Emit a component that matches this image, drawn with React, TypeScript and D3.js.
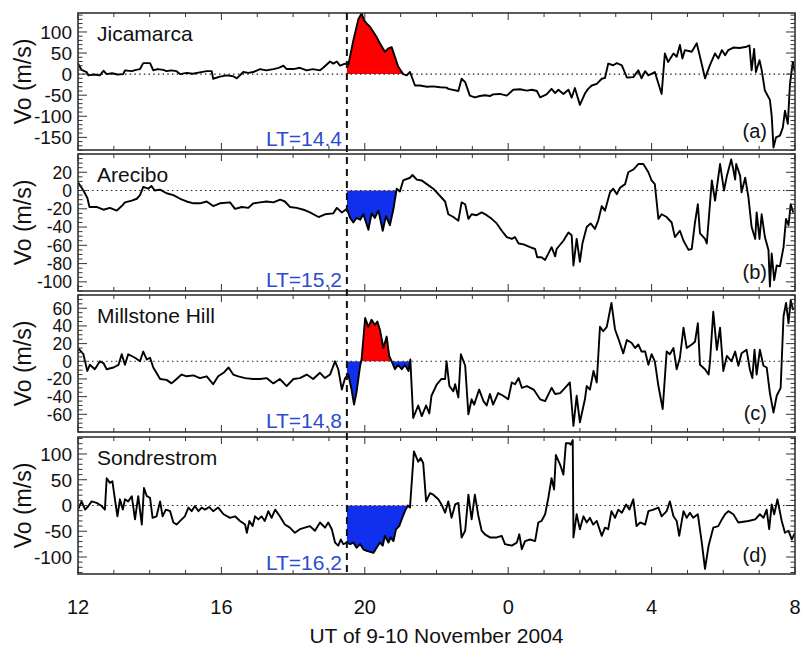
import React from "react";
import * as d3 from "d3";

// ---------------- data (UT hour, Vo m/s) ----------------
const jicamarca: [number, number][] = [
  [12.0,25],[12.1,10],[12.24,5],[12.29,-3],[12.45,-1],[12.61,-3],[12.71,8],[12.8,0],[12.95,2],[13.1,-1],[13.26,0],[13.31,9],[13.5,7],[13.62,10],[13.73,12],[13.82,26],[14.01,26],[14.1,9],[14.22,12],[14.38,10],[14.47,7],[14.6,9],[14.75,7],[14.85,0],[15.03,3],[15.2,1],[15.4,4],[15.59,7],[15.73,7],[15.77,-11],[15.96,-6],[16.15,-3],[16.33,-5],[16.43,-10],[16.61,5],[16.75,3],[16.89,5],[17.08,12],[17.25,9],[17.45,12],[17.6,15],[17.73,20],[17.82,12],[18.01,12],[18.19,15],[18.38,9],[18.55,12],[18.75,9],[18.84,15],[19.03,30],[19.12,25],[19.22,30],[19.31,20],[19.45,25],[19.54,22],[19.62,55],[19.68,80],[19.75,105],[19.82,130],[19.91,144],[19.98,128],[20.05,120],[20.15,112],[20.24,100],[20.33,88],[20.42,73],[20.56,53],[20.66,61],[20.75,64],[20.84,41],[20.93,18],[21.07,0],[21.17,-3],[21.26,5],[21.4,-27],[21.54,-27],[21.73,-30],[21.91,-29],[22.1,-31],[22.28,-32],[22.33,-35],[22.61,-40],[22.7,-11],[22.8,-19],[22.93,-51],[23.07,-55],[23.21,-52],[23.35,-50],[23.49,-52],[23.58,-48],[23.77,-47],[23.96,-51],[24.14,-37],[24.33,-36],[24.52,-39],[24.66,-37],[24.8,-40],[24.89,-55],[25.07,-48],[25.21,-35],[25.31,-45],[25.4,-37],[25.54,-47],[25.68,-37],[25.77,-56],[25.86,-33],[26.0,-73],[26.14,-46],[26.23,-35],[26.33,-27],[26.47,-23],[26.61,-11],[26.7,-9],[26.79,25],[26.93,21],[27.03,26],[27.17,21],[27.31,-8],[27.49,-7],[27.63,9],[27.72,-10],[27.82,7],[27.91,-3],[28.09,5],[28.28,-47],[28.37,49],[28.46,29],[28.61,49],[28.7,41],[28.79,69],[28.86,37],[28.93,57],[29.12,53],[29.26,73],[29.35,41],[29.49,-10],[29.63,22],[29.77,49],[29.86,37],[29.96,57],[30.05,45],[30.14,57],[30.28,63],[30.45,62],[30.65,65],[30.73,68],[30.79,9],[30.86,60],[30.91,5],[31.01,33],[31.07,10],[31.16,-39],[31.3,-61],[31.35,-99],[31.4,-174],[31.47,-150],[31.58,-146],[31.66,-127],[31.72,-87],[31.8,-118],[31.86,-23],[31.94,29],[32.0,5]
];

const arecibo: [number, number][] = [
  [12.0,9],[12.15,0],[12.26,-8],[12.32,-18],[12.52,-18],[12.71,-21],[12.89,-19],[13.08,-22],[13.22,-17],[13.31,-13],[13.5,-11],[13.64,-9],[13.73,-5],[13.82,4],[13.96,2],[14.05,5],[14.14,0],[14.29,1],[14.47,-3],[14.66,-5],[14.85,-9],[15.03,-12],[15.22,-14],[15.4,-14],[15.59,-12],[15.77,-17],[15.96,-14],[16.24,-13],[16.38,-20],[16.57,-18],[16.75,-19],[16.89,-14],[17.08,-13],[17.26,-12],[17.45,-13],[17.64,-10],[17.77,-12],[17.91,-18],[18.1,-19],[18.29,-21],[18.47,-24],[18.71,-29],[18.89,-26],[19.12,-25],[19.22,-19],[19.36,-24],[19.5,-20],[19.59,-30],[19.68,-35],[19.77,-30],[19.87,-32],[19.96,-26],[20.1,-43],[20.19,-25],[20.28,-30],[20.38,-22],[20.5,-44],[20.59,-28],[20.7,-38],[20.8,-20],[20.89,2],[20.98,-1],[21.07,11],[21.26,14],[21.33,17],[21.45,12],[21.59,11],[21.73,7],[21.91,2],[22.1,-6],[22.24,-12],[22.33,-26],[22.47,-29],[22.61,-33],[22.7,-13],[22.8,-15],[22.89,-31],[22.98,-26],[23.12,-27],[23.26,-24],[23.4,-27],[23.54,-31],[23.68,-36],[23.82,-44],[23.96,-51],[24.1,-53],[24.19,-51],[24.29,-58],[24.43,-59],[24.61,-62],[24.75,-64],[24.81,-73],[24.93,-73],[25.03,-76],[25.12,-69],[25.21,-62],[25.31,-72],[25.35,-64],[25.54,-55],[25.68,-46],[25.77,-49],[25.82,-82],[25.91,-53],[26.0,-78],[26.07,-58],[26.19,-40],[26.3,-36],[26.42,-42],[26.51,-33],[26.61,-17],[26.7,-22],[26.84,-2],[26.93,2],[27.03,-4],[27.12,3],[27.26,7],[27.35,20],[27.49,23],[27.63,29],[27.77,29],[27.91,20],[28.0,11],[28.09,7],[28.19,-31],[28.28,-26],[28.42,-29],[28.56,-35],[28.65,-51],[28.79,-44],[28.89,-55],[29.03,-65],[29.12,-64],[29.21,-35],[29.29,-15],[29.35,-47],[29.49,-53],[29.54,-58],[29.68,11],[29.77,-11],[29.91,29],[30.02,0],[30.1,16],[30.22,34],[30.28,23],[30.33,12],[30.36,29],[30.47,16],[30.51,-2],[30.61,14],[30.7,-7],[30.79,-40],[30.89,-53],[30.93,-24],[31.01,-53],[31.07,-26],[31.16,-51],[31.26,-65],[31.3,-105],[31.35,-69],[31.42,-98],[31.49,-82],[31.58,-83],[31.68,-62],[31.75,-31],[31.82,-38],[31.88,-15],[31.95,-24]
];

const millstone: [number, number][] = [
  [12.0,15],[12.15,8],[12.26,-11],[12.33,-4],[12.47,-9],[12.61,0],[12.71,-2],[12.8,-9],[12.99,-7],[13.13,-4],[13.22,8],[13.31,-4],[13.4,8],[13.59,4],[13.73,0],[13.82,11],[13.92,2],[14.01,4],[14.1,-7],[14.29,-20],[14.47,-21],[14.61,-25],[14.75,-20],[14.89,-15],[15.03,-17],[15.22,-16],[15.4,-19],[15.59,-17],[15.77,-26],[15.91,-17],[16.06,-13],[16.2,-7],[16.33,-15],[16.47,-17],[16.66,-19],[16.89,-20],[17.08,-20],[17.26,-19],[17.45,-25],[17.63,-20],[17.82,-28],[18.01,-20],[18.19,-19],[18.38,-15],[18.56,-20],[18.75,-13],[18.89,-19],[19.03,-15],[19.17,0],[19.26,-9],[19.36,-32],[19.45,-19],[19.54,-15],[19.63,-32],[19.7,-49],[19.77,-35],[19.87,-5],[19.91,2],[20.01,49],[20.1,39],[20.19,47],[20.28,41],[20.35,45],[20.42,36],[20.52,15],[20.61,28],[20.68,6],[20.75,0],[20.84,-9],[20.93,-4],[21.03,-9],[21.12,-4],[21.22,-11],[21.27,2],[21.35,-64],[21.49,-50],[21.59,-62],[21.71,-50],[21.8,-59],[21.86,-39],[22.01,-26],[22.14,-20],[22.24,-20],[22.28,0],[22.36,-28],[22.47,-34],[22.52,-26],[22.61,-41],[22.68,8],[22.8,-5],[22.89,-60],[22.98,-43],[23.05,-49],[23.19,-32],[23.31,-45],[23.4,-50],[23.49,-37],[23.58,-49],[23.72,-36],[23.86,-39],[24.0,-43],[24.1,-24],[24.19,-26],[24.29,-19],[24.38,-30],[24.52,-28],[24.71,-32],[24.89,-43],[25.03,-45],[25.21,-30],[25.31,-37],[25.45,-36],[25.63,-28],[25.72,-24],[25.82,-73],[25.91,-39],[26.0,-69],[26.14,-43],[26.19,-28],[26.28,-32],[26.38,-11],[26.47,-24],[26.56,39],[26.65,34],[26.75,39],[26.88,66],[26.98,36],[27.07,26],[27.21,9],[27.31,24],[27.44,21],[27.54,15],[27.63,19],[27.72,11],[27.82,11],[27.91,-4],[28.0,8],[28.09,0],[28.19,-28],[28.31,-54],[28.42,11],[28.51,8],[28.61,15],[28.7,-9],[28.79,4],[28.89,38],[28.98,15],[29.12,19],[29.21,22],[29.29,43],[29.35,-4],[29.49,-9],[29.59,-15],[29.63,0],[29.72,56],[29.82,13],[29.91,38],[30.0,-11],[30.1,6],[30.23,0],[30.33,11],[30.42,-5],[30.51,9],[30.65,13],[30.74,-9],[30.81,-19],[30.87,13],[30.93,-15],[31.02,13],[31.12,-5],[31.21,-7],[31.3,-36],[31.4,-58],[31.49,-39],[31.6,-30],[31.68,51],[31.75,66],[31.82,43],[31.88,69],[31.95,58]
];

const sondrestrom: [number, number][] = [
  [12.0,-8],[12.1,8],[12.2,-8],[12.29,-1],[12.38,8],[12.52,5],[12.66,-1],[12.75,-8],[12.8,53],[12.89,44],[12.96,47],[13.03,12],[13.1,-21],[13.17,12],[13.25,-8],[13.31,12],[13.4,8],[13.5,18],[13.59,-27],[13.68,18],[13.78,-37],[13.84,34],[13.92,18],[14.01,15],[14.08,-24],[14.19,-21],[14.29,8],[14.36,-21],[14.45,-8],[14.57,-11],[14.66,-33],[14.75,-37],[14.85,-30],[14.98,-21],[15.08,-4],[15.17,-11],[15.26,-1],[15.36,-11],[15.45,-4],[15.54,-8],[15.66,-3],[15.77,-11],[15.91,-4],[16.06,-17],[16.24,-24],[16.38,-21],[16.52,-30],[16.66,-37],[16.71,-53],[16.78,-30],[16.87,-40],[16.94,-21],[17.03,-27],[17.12,-21],[17.21,-30],[17.31,-11],[17.4,-24],[17.5,-8],[17.63,-21],[17.77,-37],[17.91,-43],[18.05,-53],[18.19,-46],[18.33,-43],[18.47,-40],[18.61,-49],[18.75,-33],[18.89,-43],[18.98,-33],[19.08,-46],[19.17,-72],[19.26,-78],[19.33,-66],[19.4,-75],[19.5,-72],[19.59,-75],[19.68,-72],[19.77,-82],[19.87,-75],[19.96,-85],[20.05,-88],[20.15,-90],[20.24,-92],[20.33,-82],[20.42,-72],[20.5,-78],[20.56,-59],[20.66,-72],[20.72,-62],[20.8,-69],[20.87,-46],[20.96,-40],[21.03,-27],[21.12,-11],[21.2,0],[21.26,-4],[21.37,105],[21.49,85],[21.56,92],[21.63,82],[21.71,8],[21.82,24],[21.91,21],[22.05,12],[22.14,2],[22.24,-14],[22.33,8],[22.42,-24],[22.52,2],[22.61,5],[22.7,-62],[22.8,-49],[22.89,21],[22.98,-27],[23.07,21],[23.17,-21],[23.26,-49],[23.35,-56],[23.49,-62],[23.68,-62],[23.82,-59],[23.91,-75],[24.1,-78],[24.24,-72],[24.31,-56],[24.38,-85],[24.47,-69],[24.61,-66],[24.75,-69],[24.84,-33],[24.93,-30],[25.03,-17],[25.12,15],[25.21,53],[25.28,31],[25.33,98],[25.45,79],[25.54,60],[25.61,121],[25.7,121],[25.74,118],[25.8,127],[25.82,-62],[25.91,-17],[26.0,-46],[26.1,-21],[26.19,-33],[26.28,-24],[26.37,-37],[26.47,-30],[26.61,-59],[26.7,-43],[26.79,-46],[26.88,-11],[26.98,-24],[27.07,-8],[27.17,-14],[27.29,2],[27.38,-8],[27.49,12],[27.58,-40],[27.68,-33],[27.82,-37],[27.91,-11],[28.05,-8],[28.19,-4],[28.28,-21],[28.42,-11],[28.51,8],[28.61,-21],[28.7,-30],[28.77,-59],[28.89,-11],[28.98,-24],[29.07,-14],[29.16,-24],[29.29,-17],[29.4,-72],[29.49,-123],[29.59,-78],[29.72,-43],[29.86,-40],[29.96,-27],[30.05,-17],[30.14,-11],[30.28,-17],[30.42,-33],[30.7,-30],[30.89,-27],[31.02,-17],[31.12,-24],[31.21,-8],[31.28,-46],[31.35,2],[31.42,-17],[31.51,12],[31.63,-30],[31.72,-53],[31.82,-49],[31.91,-66],[32.0,-53]
];

const stationNames = ["Jicamarca", "Arecibo", "Millstone Hill", "Sondrestrom"];
const ltLabels = ["LT=14.4", "LT=15.2", "LT=14.8", "LT=16.2"];
const panelTags = ["(a)", "(b)", "(c)", "(d)"];
const yDomains: [number, number][] = [[-180, 145], [-110, 40], [-80, 75], [-133, 133]];
const yTicksA = [-150, -100, -50, 0, 50, 100];
const yTicksB = [-100, -80, -60, -40, -20, 0, 20];
const yTicksC = [-60, -40, -20, 0, 20, 40, 60];
const yTicksD = [-100, -50, 0, 50, 100];
const yMinorSteps = [10, 5, 5, 10];
const fillEnds = [21.06, 20.92, 21.25, 21.2];
const xTickValues = [12, 16, 20, 24, 28, 32];
const xTickLabels = ["12", "16", "20", "0", "4", "8"];
const eventTime = 19.5;

// ---------------- layout ----------------
const W = 804, H = 647;
const X0 = 78, X1 = 795;
const TOPS = [13, 154, 295, 437];
const PH = 137;
const FONT = "'Liberation Sans', Arial, Helvetica, sans-serif";
const RED = "#ff0000";
const BLUE = "#1030ee";
const LTBLUE = "#2d4bd2";
const TICK_FONT = [19, 17.5, 17.5, 19];

function interpAt(data: [number, number][], t: number): number {
  for (let i = 0; i < data.length - 1; i++) {
    const [t0, v0] = data[i], [t1, v1] = data[i + 1];
    if (t >= t0 && t <= t1) return v0 + (v1 - v0) * (t - t0) / (t1 - t0);
  }
  return data[data.length - 1][1];
}

export default function App() {
  const series = [jicamarca, arecibo, millstone, sondrestrom];
  const yTicks = [yTicksA, yTicksB, yTicksC, yTicksD];
  const x = d3.scaleLinear().domain([12, 32]).range([X0, X1]);
  const hours = d3.range(12, 33, 1);

  return (
    <svg width={W} height={H} style={{ position: "absolute", left: 0, top: 0, background: "#fff" }} fontFamily={FONT}>
      <rect x={0} y={0} width={W} height={H} fill="#fff" />
      {series.map((data, i) => {
        const top = TOPS[i], bot = top + PH;
        const y = d3.scaleLinear().domain(yDomains[i]).range([bot, top]);
        const line = d3.line<[number, number]>().x(d => x(d[0])).y(d => y(d[1]));
        const y0 = y(0);
        const fe = fillEnds[i];
        const fillPts: [number, number][] = [
          [eventTime, interpAt(data, eventTime)],
          ...data.filter(d => d[0] > eventTime && d[0] < fe),
          [fe, interpAt(data, fe)],
        ];
        const area = d3.area<[number, number]>().x(d => x(d[0])).y0(y0).y1(d => y(d[1]));
        const [dmin, dmax] = yDomains[i];
        const minorStep = yMinorSteps[i];
        const minorVals = d3.range(Math.ceil(dmin / minorStep) * minorStep, dmax + 0.001, minorStep);
        return (
          <g key={i}>
            <defs>
              <clipPath id={`plot${i}`}><rect x={X0} y={top} width={X1 - X0} height={PH} /></clipPath>
              <clipPath id={`pos${i}`}><rect x={X0} y={top} width={X1 - X0} height={y0 - top} /></clipPath>
              <clipPath id={`neg${i}`}><rect x={X0} y={y0} width={X1 - X0} height={bot - y0} /></clipPath>
            </defs>
            <path d={area(fillPts) || ""} fill={RED} clipPath={`url(#pos${i})`} />
            <path d={area(fillPts) || ""} fill={BLUE} clipPath={`url(#neg${i})`} />
            <line x1={X0} x2={X1} y1={y0} y2={y0} stroke="#222" strokeWidth={1.1} strokeDasharray="1.5,3.2" />
            <path d={line(data) || ""} fill="none" stroke="#000" strokeWidth={1.9} strokeLinejoin="round" clipPath={`url(#plot${i})`} />
            {hours.map(h => {
              const len = (h - 12) % 4 === 0 ? 7 : 4;
              const xx = x(h);
              return (
                <g key={h}>
                  <line x1={xx} x2={xx} y1={top} y2={top + len} stroke="#333" strokeWidth={1} />
                  <line x1={xx} x2={xx} y1={bot} y2={bot - len} stroke="#333" strokeWidth={1} />
                </g>
              );
            })}
            {minorVals.map(v => {
              const yy = y(v);
              const major = yTicks[i].includes(v);
              const len = major ? 9 : 4.5;
              return (
                <g key={v}>
                  <line x1={X0} x2={X0 + len} y1={yy} y2={yy} stroke="#333" strokeWidth={1} />
                  <line x1={X1} x2={X1 - len} y1={yy} y2={yy} stroke="#333" strokeWidth={1} />
                </g>
              );
            })}
            {yTicks[i].map(v => (
              <text key={v} x={72} y={y(v)} dy="0.36em" textAnchor="end" fontSize={TICK_FONT[i]} fill="#111">{v}</text>
            ))}
            <rect x={X0} y={top} width={X1 - X0} height={PH} fill="none" stroke="#333" strokeWidth={1.6} />
            <text x={97} y={top + 28} fontSize={21} fill="#111">{stationNames[i]}</text>
            <text x={342} y={bot - 4} fontSize={21} fill={LTBLUE} textAnchor="end">{ltLabels[i]}</text>
            <text x={767} y={bot - 12} fontSize={20} fill="#111" textAnchor="end">{panelTags[i]}</text>
            <text transform={`translate(31,${(top + bot) / 2}) rotate(-90)`} textAnchor="middle" fontSize={23} fill="#111">Vo (m/s)</text>
          </g>
        );
      })}
      <line x1={x(eventTime)} x2={x(eventTime)} y1={TOPS[0]} y2={TOPS[3] + PH} stroke="#111" strokeWidth={2} strokeDasharray="7,5" />
      {xTickValues.map((v, k) => (
        <text key={v} x={x(v)} y={614} textAnchor="middle" fontSize={20} fill="#111">{xTickLabels[k]}</text>
      ))}
      <text x={(X0 + X1) / 2} y={643} textAnchor="middle" fontSize={21} fill="#111">UT of 9-10 November 2004</text>
    </svg>
  );
}
